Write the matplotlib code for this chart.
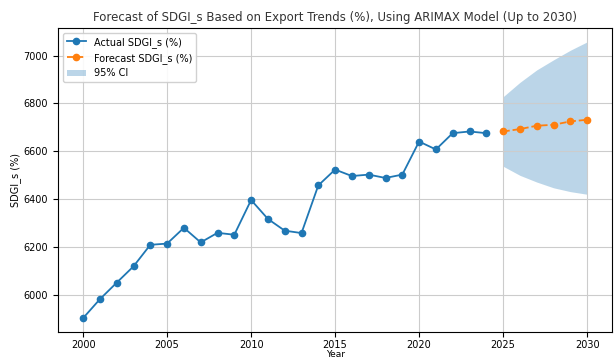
import numpy as np
import matplotlib.pyplot as plt

years = list(range(2000, 2025))
actual = [5904, 5983, 6052, 6120, 6210, 6215, 6281, 6220, 6260, 6252,
          6397, 6318, 6269, 6259, 6458, 6524, 6497, 6503, 6489, 6503,
          6641, 6608, 6676, 6683, 6676]

forecast_years = list(range(2025, 2031))
forecast = [6683, 6693, 6707, 6711, 6725, 6732]
ci_lower = [6538, 6500, 6472, 6448, 6432, 6421]
ci_upper = [6828, 6888, 6940, 6982, 7022, 7057]

fig = plt.figure(figsize=(6.16, 3.6), dpi=100)
ax = fig.add_axes([0.094, 0.078, 0.90, 0.844])

ax.plot(years, actual, marker='o', markersize=4.5, linewidth=1.3,
        color='tab:blue', label='Actual SDGI_s (%)')
ax.plot(forecast_years, forecast, marker='o', markersize=4.5, linewidth=1.3,
        linestyle='--', color='tab:orange', label='Forecast SDGI_s (%)')
ax.fill_between(forecast_years, ci_lower, ci_upper, color='tab:blue',
                alpha=0.3, linewidth=0, label='95% CI')

ax.set_title('Forecast of SDGI_s Based on Export Trends (%), Using ARIMAX Model (Up to 2030)',
             fontsize=8.5, color='#333333', pad=5)
ax.set_xlabel('Year', fontsize=6.5, labelpad=0)
ax.set_ylabel('SDGI_s (%)', fontsize=7, labelpad=2)
ax.set_xticks(np.arange(2000, 2031, 5))
ax.set_yticks(np.arange(6000, 7001, 200))
ax.tick_params(labelsize=7)
ax.tick_params(axis='x', pad=2.5)
ax.grid(True, color='#cccccc', linewidth=0.8)
ax.legend(loc='upper left', fontsize=7, framealpha=0.9)

fig.savefig('out.png', dpi=100)
